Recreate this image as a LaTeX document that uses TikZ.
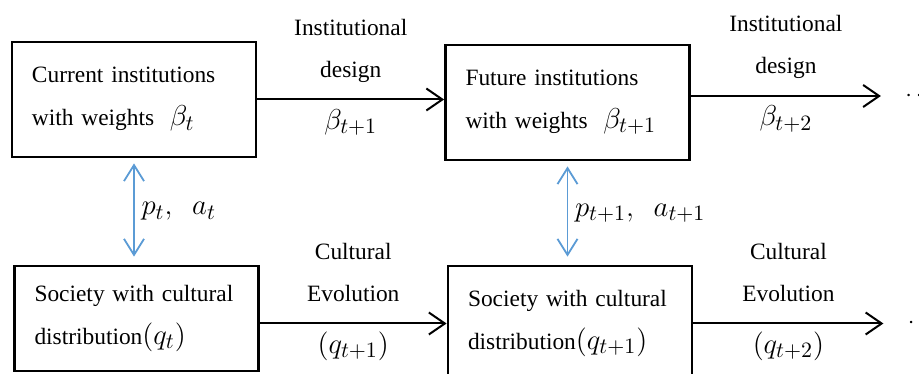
\documentclass[tikz,border=0pt]{standalone}
\usepackage{fontspec}
\setmainfont{Liberation Serif}
\usetikzlibrary{calc,arrows.meta}
\definecolor{linkblue}{RGB}{91,155,213}
\newcommand*\mth[1]{{\fontsize{15}{17}\selectfont$#1$}}

\begin{document}
\begin{tikzpicture}[x=0.5pt,y=0.5pt,
    every node/.style={font=\fontsize{11.7}{21.5}\selectfont},
    box/.style={draw, line width=1.4pt, text width=102pt, inner xsep=10pt, align=left},
    lbl/.style={anchor=base, inner sep=0pt},
    flow/.style={-{Straight Barb[length=8pt,width=11pt]}, line width=1pt},
    link/.style={{Straight Barb[length=8pt,width=10pt]}-{Straight Barb[length=8pt,width=10pt]},
        line width=0.9pt, draw=linkblue, shorten <=2.5pt, shorten >=4pt}]

                \useasboundingbox (0,0) rectangle (919,374);

                \node[box, minimum height=57.5pt] (cur) at (134,274.5) {Current institutions\\with weights\ \ \mth{\beta_t}};
                \node[box, minimum height=57.5pt] (fut) at (567.5,271.5) {Future institutions\\with weights\ \ \mth{\beta_{t+1}}};
                \node[box, minimum height=52.5pt] (soc) at (136.5,55.5) {Society with cultural\\distribution\mth{(q_t)}};
                \node[box, minimum height=57.5pt] (socn) at (570,50.5) {Society with cultural\\distribution\mth{(q_{t+1})}};

                \coordinate (fut-end) at ($(fut.east)+(190,6.5)$);
                \coordinate (socn-end) at ($(socn.east)+(190,0)$);

                % Draw an arrow from #2 to #3 with two lines #4, #5 above and #6 below
                \def\drawFlow#1#2#3#4#5#6{
                    \draw[flow] (#2) -- (#3)
                        node[lbl, pos=0.5, yshift=32pt] (#1-a) {#4}
                        node[lbl, pos=0.5, yshift=11pt] (#1-b) {#5}
                        node[lbl, pos=0.5, yshift=-15pt] (#1-c) {#6};
                }

                \drawFlow{des}{cur.east}{cur.east -| fut.west}{Institutional}{design}{\mth{\beta_{t+1}}}
                \drawFlow{desn}{fut.east |- fut-end}{fut-end}{Institutional}{design}{\mth{\beta_{t+2}}}
                \drawFlow{evo}{soc.east |- socn.west}{socn.west}{Cultural}{Evolution}{\mth{(q_{t+1})}}
                \drawFlow{evon}{socn.east}{socn-end}{Cultural}{Evolution}{\mth{(q_{t+2})}}

                \node[anchor=west, inner sep=0pt] (fut-dots) at ($(fut-end)+(24,0)$) {$\cdots$};
                \node[anchor=west, inner sep=0pt] (socn-dots) at ($(socn-end)+(24,0)$) {$\cdots$};

                \draw[link] (cur.south) -- (cur.south |- soc.north)
                    node[midway, right] (pa) {\mth{p_t,\ \ a_t}};
                \draw[link] (fut.south) -- (fut.south |- socn.north)
                    node[midway, right] (pan) {\mth{p_{t+1},\ \ a_{t+1}}};
            \end{tikzpicture}
\end{document}
